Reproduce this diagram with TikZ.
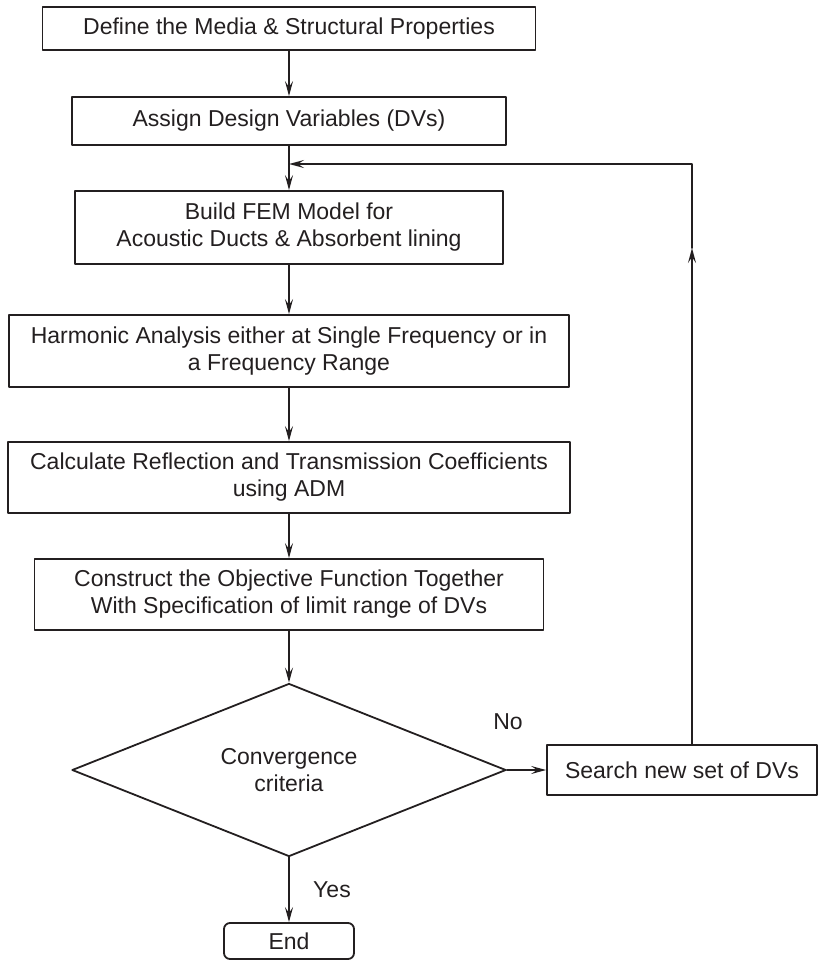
\documentclass[tikz,border=0pt]{standalone}
\usepackage{fontspec}
\setmainfont{Liberation Sans}
\usepackage{xcolor}
\usepackage{tikz}
\usetikzlibrary{arrows.meta,shapes.geometric}
\definecolor{ink}{RGB}{35,31,32}
\tikzset{
  stepbox/.style={draw=ink,line width=1.8pt,inner sep=0pt,align=center,text=ink,font=\fontsize{23}{27}\selectfont},
  decbox/.style={stepbox,diamond,aspect=2.5},
  endbox/.style={stepbox,rounded corners=6pt},
  tag/.style={text=ink,inner sep=0pt,font=\fontsize{23}{27}\selectfont},
  flow/.style={draw=ink,line width=1.8pt,->}
}
\begin{document}
\begin{tikzpicture}[line cap=round,line join=round,>={Stealth[length=15pt,width=8pt,inset=6pt]},x=1pt,y=-1pt]
\clip(0,0) rectangle (819,961);
\node[stepbox,minimum width=493pt,minimum height=43pt] (media) at (289,28.5) {Define the Media \& Structural Properties};
\node[stepbox,minimum width=434pt,minimum height=48pt] (dvs) at (289,121) {Assign Design Variables (DVs)};
\node[stepbox,minimum width=428pt,minimum height=73pt] (fem) at (289,227.5) {Build FEM Model for\\Acoustic Ducts \& Absorbent lining};
\node[stepbox,minimum width=560pt,minimum height=72pt] (harm) at (289,351) {Harmonic Analysis either at Single Frequency or in\\a Frequency Range};
\node[stepbox,minimum width=562pt,minimum height=71pt] (coef) at (289,477.5) {Calculate Reflection and Transmission Coefficients\\using ADM};
\node[stepbox,minimum width=509pt,minimum height=71pt] (obj) at (289,594.5) {Construct the Objective Function Together\\With Specification of limit range of DVs};
\node[decbox,minimum width=434pt,minimum height=173pt] (conv) at (289,770) {Convergence\\criteria};
\node[stepbox,minimum width=270pt,minimum height=50pt] (search) at (682,770) {Search new set of DVs};
\node[endbox,minimum width=130pt,minimum height=36pt] (end) at (289,941) {End};
\node[tag] (no) at (508,722) {No};
\node[tag] (yes) at (332,890) {Yes};
\coordinate (turn) at (692,164);
\coordinate (join) at (289,164);
\coordinate (mid) at (692,248);
\draw[flow] (media) -- (dvs);
\draw[flow] (dvs) -- (fem);
\draw[flow] (fem) -- (harm);
\draw[flow] (harm) -- (coef);
\draw[flow] (coef) -- (obj);
\draw[flow] (obj) -- (conv);
\draw[flow] (conv.east) -- (search.west);
\draw[flow] (conv.south) -- (end);
\draw[flow] (search.north -| turn) -- (mid);
\draw[flow] (mid) -- (turn) -- (join);
\end{tikzpicture}
\end{document}
